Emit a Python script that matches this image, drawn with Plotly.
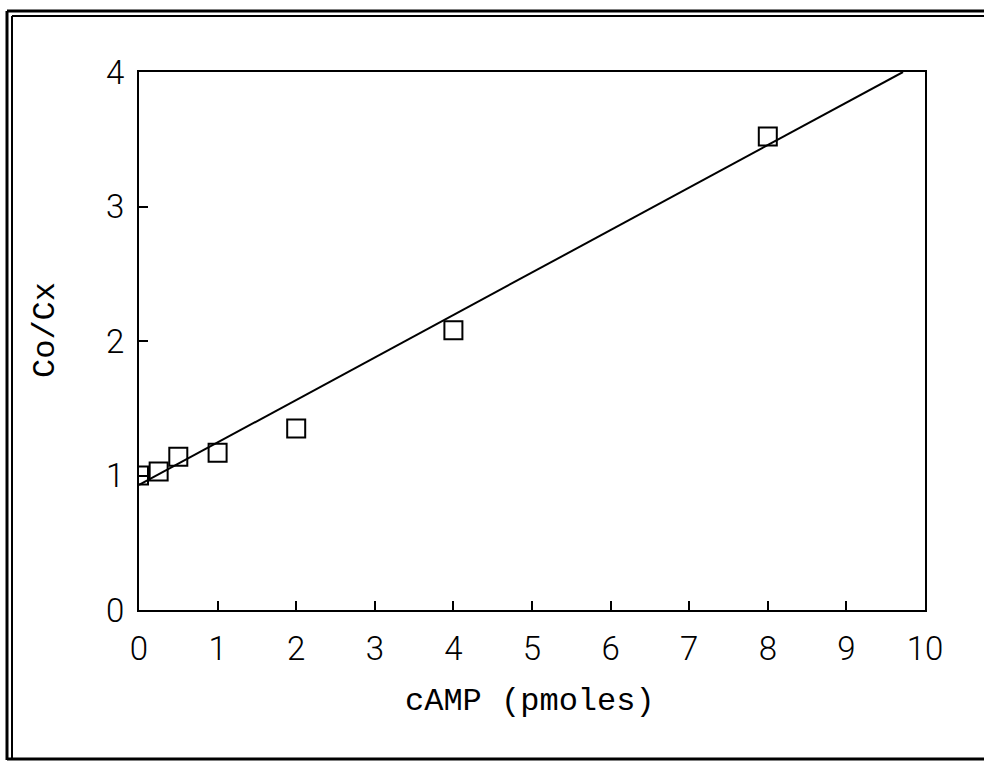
import plotly.graph_objects as go

# Data
camp = [0, 0.25, 0.5, 1, 2, 4, 8]
ratio = [1.0, 1.03, 1.14, 1.17, 1.35, 2.08, 3.52]
fit_x = [0, 9.72]
fit_y = [0.93, 4.0]
x_ticks = [0, 1, 2, 3, 4, 5, 6, 7, 8, 9, 10]
y_ticks = [0, 1, 2, 3, 4]

W, H = 984, 763
L, R, T, B = 139, 925, 72, 610  # plot area in pixels

def px(x):
    return (x - L) / (R - L)

def py(y):
    return (B - y) / (B - T)

fig = go.Figure()
fig.add_trace(go.Scatter(x=fit_x, y=fit_y, mode="lines",
                         line=dict(color="black", width=2), showlegend=False))
fig.add_trace(go.Scatter(x=camp, y=ratio, mode="markers",
                         marker=dict(symbol="square-open", size=18,
                                     color="black", line=dict(width=2, color="black")),
                         showlegend=False))

tickfont = dict(family="Roboto, sans-serif", weight=300, size=33, color="black")
fig.update_xaxes(range=[0, 10], tickvals=x_ticks, ticktext=[str(v) for v in x_ticks],
                 ticks="inside", ticklen=9, tickwidth=1.5, tickcolor="black",
                 showline=True, linecolor="black", linewidth=2, mirror=True,
                 showgrid=False, zeroline=False, tickfont=tickfont,
                 ticklabelstandoff=8)
fig.update_yaxes(range=[0, 4], tickvals=y_ticks, ticktext=[str(v) for v in y_ticks],
                 ticks="inside", ticklen=9, tickwidth=1.5, tickcolor="black",
                 showline=True, linecolor="black", linewidth=2, mirror=True,
                 showgrid=False, zeroline=False, tickfont=tickfont,
                 ticklabelstandoff=6)

titlefont = dict(family="Liberation Mono, DejaVu Sans Mono, monospace", size=32, color="black")
fig.add_annotation(text="cAMP (pmoles)", xref="paper", yref="paper",
                   x=px(530), y=py(701), showarrow=False, font=titlefont,
                   xanchor="center", yanchor="middle")
fig.add_annotation(text="Co/Cx", xref="paper", yref="paper",
                   x=px(45), y=py(330), showarrow=False, font=titlefont,
                   textangle=-90, xanchor="center", yanchor="middle")

# Outer double frame
frame = [
    (px(7), py(11), px(990), py(11), 3),
    (px(12), py(16), px(990), py(16), 2),
    (px(7), py(11), px(7), py(760), 3),
    (px(12), py(16), px(12), py(760), 2),
    (px(7), py(759), px(990), py(759), 3),
]
for x0, y0, x1, y1, w in frame:
    fig.add_shape(type="line", xref="paper", yref="paper", x0=x0, y0=y0, x1=x1, y1=y1,
                  line=dict(color="black", width=w))

fig.update_layout(width=W, height=H, margin=dict(l=L, r=W - R, t=T, b=H - B),
                  paper_bgcolor="white", plot_bgcolor="white")
fig.write_html("out.html")
